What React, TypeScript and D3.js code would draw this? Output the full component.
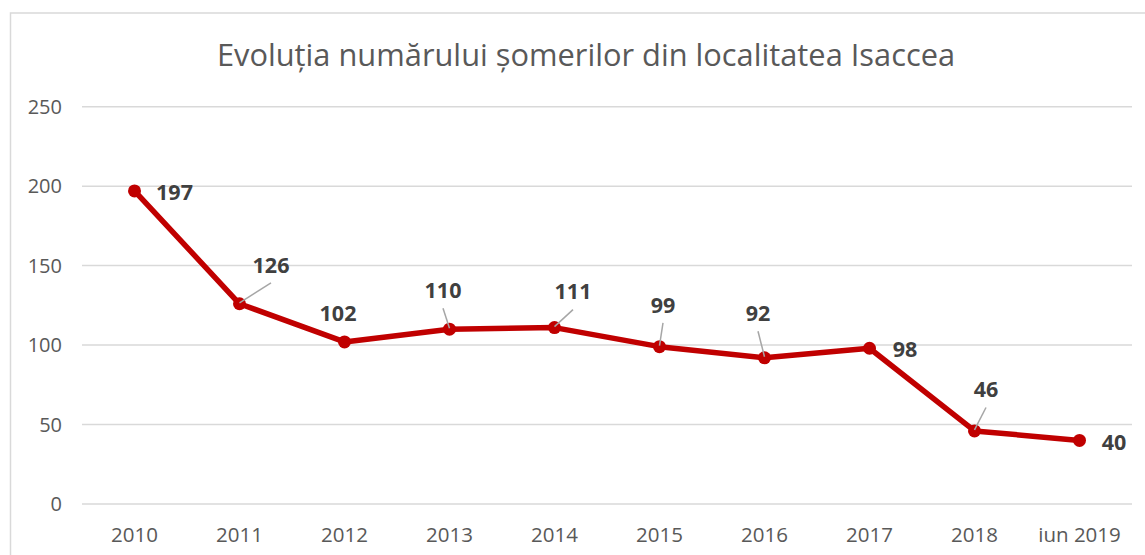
import React from "react";
import * as d3 from "d3";

const categories = ["2010", "2011", "2012", "2013", "2014", "2015", "2016", "2017", "2018", "iun 2019"];
const values = [197, 126, 102, 110, 111, 99, 92, 98, 46, 40];
const yTicks = [0, 50, 100, 150, 200, 250];
const title = "Evoluția numărului șomerilor din localitatea Isaccea";
// label placement relative to each point: [dx, dy, hasLeader]
const labelOffsets: [number, number, boolean][] = [
  [40, 1, false],
  [31.5, -39, true],
  [-6.5, -28.5, false],
  [-6.5, -39, true],
  [18.5, -36, true],
  [3.5, -41.7, true],
  [-6.5, -44.5, true],
  [35.5, 1, false],
  [11.5, -41.4, true],
  [34.5, 2, false],
];

const W = 1145;
const H = 555;
const FONT = "'Open Sans', 'DejaVu Sans', sans-serif";

export default function App() {
  const x = d3.scaleBand<string>().domain(categories).range([82, 1132]);
  const y = d3.scaleLinear().domain([0, 250]).range([504, 106.7]);
  const cx = (c: string) => (x(c) as number) + x.bandwidth() / 2;
  const line = d3
    .line<number>()
    .x((_, i) => cx(categories[i]))
    .y((v) => y(v));

  return (
    <svg
      width={W}
      height={H}
      style={{ position: "absolute", left: 0, top: 0, background: "#fff" }}
      fontFamily={FONT}
    >
      <rect x={10.5} y={13} width={1300} height={700} fill="#fff" stroke="#d9d9d9" strokeWidth={1.5} />
      <text x={586} y={66} textAnchor="middle" fontSize={30.8} fill="#595959">
        {title}
      </text>
      {yTicks.map((t) => (
        <g key={t}>
          <line x1={82} x2={1132} y1={y(t)} y2={y(t)} stroke="#d9d9d9" strokeWidth={1.5} />
          <text x={62} y={y(t)} dy="0.35em" textAnchor="end" fontSize={20} fill="#595959">
            {t}
          </text>
        </g>
      ))}
      {categories.map((c) => (
        <text key={c} x={cx(c)} y={541.5} textAnchor="middle" fontSize={20.5} fill="#595959">
          {c}
        </text>
      ))}
      <path d={line(values) || ""} fill="none" stroke="#c00000" strokeWidth={5.5} strokeLinejoin="round" />
      {values.map((v, i) => (
        <circle key={i} cx={cx(categories[i])} cy={y(v)} r={6.5} fill="#c00000" />
      ))}
      {values.map((v, i) => {
        const [dx, dy, leader] = labelOffsets[i];
        const px = cx(categories[i]);
        const py = y(v);
        const tx = px + dx;
        const ty = py + dy;
        return (
          <g key={i}>
            {leader && (
              <line x1={tx} y1={ty + 18} x2={px} y2={py - 1} stroke="#a6a6a6" strokeWidth={1.5} />
            )}
            <text x={tx} y={ty} dy="0.36em" textAnchor="middle" fontSize={21.5} fontWeight="bold" fill="#404040">
              {v}
            </text>
          </g>
        );
      })}
    </svg>
  );
}
